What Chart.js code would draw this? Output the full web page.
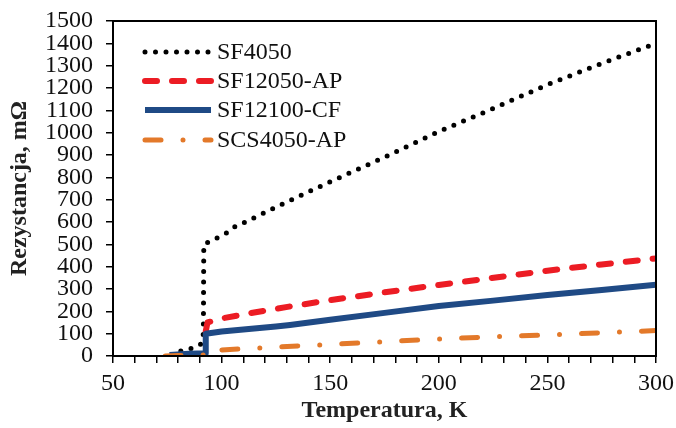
<!DOCTYPE html>
<html>
<head>
<meta charset="utf-8">
<script src="https://cdn.jsdelivr.net/npm/chart.js@4.4.0/dist/chart.umd.min.js"></script>
<style>
  html, body { margin: 0; padding: 0; background: #fff; }
  #wrap { width: 676px; height: 428px; }
</style>
</head>
<body>
<div id="wrap"><canvas id="chart"></canvas></div>
<script>
// series names (legend order)
const seriesNames = ['SF4050', 'SF12050-AP', 'SF12100-CF', 'SCS4050-AP'];

// temperature, K / resistance, mOhm
const sf4050T = [77, 81.6, 87, 90.8, 91.6, 91.8, 96, 101.6, 106, 111, 125, 150, 175, 200, 225, 250, 275, 300];
const sf4050R = [0, 25, 36, 55, 100, 500, 520, 546, 578, 600, 667, 780, 890, 1005, 1108, 1215, 1310, 1400];

const sf12050T = [92.7, 93.5, 100, 115, 131, 150, 175, 200, 228, 250, 275, 300];
const sf12050R = [110, 150, 168, 195, 221, 250, 285, 318, 354, 382, 410, 437];

const sf12100T = [76, 85, 92.6, 92.7, 100, 125, 131.5, 150, 175, 200, 225, 250, 275, 300];
const sf12100R = [5, 10, 12, 100, 110, 132, 139, 162, 193, 224, 248, 273, 296, 319];

const scs4050T = [74, 80, 90, 92, 92.3, 100, 125, 150, 175, 200, 225, 250, 275, 300];
const scs4050R = [0, 2, 4, 5, 22, 27, 40, 52, 64, 76, 86, 94, 104, 114];

// axis ticks
const xMin = 50, xMax = 300, xStep = 10, xLabelEvery = 50;
const yMin = 0, yMax = 1500, yStep = 100;

const FONT = "'Liberation Serif', 'Times New Roman', serif";

function pts(xs, ys) {
    return xs.map((x, i) => ({ x: x, y: ys[i] }));
}

const styles = [
    { color: '#000000', width: 5, dash: [0, 10.5], cap: 'round' },
    { color: '#ec1c24', width: 6, dash: [12, 15], cap: 'round' },
    { color: '#1f4a85', width: 6, dash: [], cap: 'butt' },
    { color: '#e3792a', width: 5, dash: [16, 22, 0, 22], cap: 'round' },
];

const seriesData = [pts(sf4050T, sf4050R), pts(sf12050T, sf12050R), pts(sf12100T, sf12100R), pts(scs4050T, scs4050R)];

const datasets = seriesNames.map((name, i) => ({
    label: name,
    data: seriesData[i],
    borderColor: styles[i].color,
    borderWidth: styles[i].width,
    borderDash: styles[i].dash,
    borderCapStyle: styles[i].cap,
    borderJoinStyle: 'round',
    pointRadius: 0,
    tension: 0,
    fill: false,
    order: seriesNames.length - i,
}));

// frame around plot area + legend inside it
const framePlugin = {
    id: 'frame',
    afterDraw(chart) {
        const { ctx, chartArea: a } = chart;
        ctx.save();
        ctx.strokeStyle = '#000';
        ctx.lineWidth = 2;
        ctx.strokeRect(a.left, a.top, a.right - a.left, a.bottom - a.top);

        // legend
        const x0 = 145, x1 = 211, tx = 217;
        const rows = [52, 81, 110, 140];
        seriesNames.forEach((name, i) => {
            const s = styles[i];
            ctx.beginPath();
            ctx.strokeStyle = s.color;
            ctx.lineWidth = s.width;
            ctx.lineCap = s.cap;
            ctx.setLineDash(s.dash);
            ctx.moveTo(x0, rows[i]);
            ctx.lineTo(x1, rows[i]);
            ctx.stroke();
            ctx.setLineDash([]);
            ctx.fillStyle = '#111';
            ctx.font = '24px ' + FONT;
            ctx.textAlign = 'left';
            ctx.textBaseline = 'middle';
            ctx.fillText(name, tx, rows[i] + 1);
        });
        ctx.restore();
    }
};

new Chart(document.getElementById('chart'), {
    type: 'line',
    data: { datasets: datasets },
    options: {
        responsive: true,
        maintainAspectRatio: false,
        animation: false,
        layout: { padding: { top: 21, right: 20, left: 0, bottom: 0 } },
        plugins: { legend: { display: false }, tooltip: { enabled: false } },
        scales: {
            x: {
                type: 'linear',
                min: xMin, max: xMax,
                afterFit(scale) {
                    scale.height = 72;
                    scale.paddingLeft = 0;
                    scale.paddingRight = 0;
                },
                border: { display: true, color: '#000', width: 2 },
                grid: { display: true, drawOnChartArea: false, drawTicks: true, tickLength: 7, color: '#000', lineWidth: 1.5 },
                ticks: {
                    stepSize: xStep, autoSkip: false, maxRotation: 0, padding: 6,
                    color: '#111', font: { family: FONT, size: 24 },
                    callback: v => (v % xLabelEvery === 0 ? String(v) : '')
                },
                title: {
                    display: true, text: 'Temperatura, K', color: '#222',
                    font: { family: FONT, size: 24, weight: 'bold' },
                    padding: { top: 0, bottom: 3 }
                }
            },
            y: {
                type: 'linear',
                min: yMin, max: yMax,
                afterFit(scale) {
                    scale.width = 113;
                    scale.paddingTop = 0;
                    scale.paddingBottom = 0;
                },
                border: { display: true, color: '#000', width: 2 },
                grid: { display: true, drawOnChartArea: false, drawTicks: true, tickLength: 7, color: '#000', lineWidth: 1.5 },
                ticks: {
                    stepSize: yStep, autoSkip: false, padding: 13,
                    color: '#111', font: { family: FONT, size: 24 },
                    callback: v => String(v)
                },
                title: {
                    display: true, text: 'Rezystancja, mΩ', color: '#222',
                    font: { family: FONT, size: 24, weight: 'bold' },
                    padding: { top: 5, bottom: 0 }
                }
            }
        }
    },
    plugins: [framePlugin]
});
</script>
</body>
</html>
